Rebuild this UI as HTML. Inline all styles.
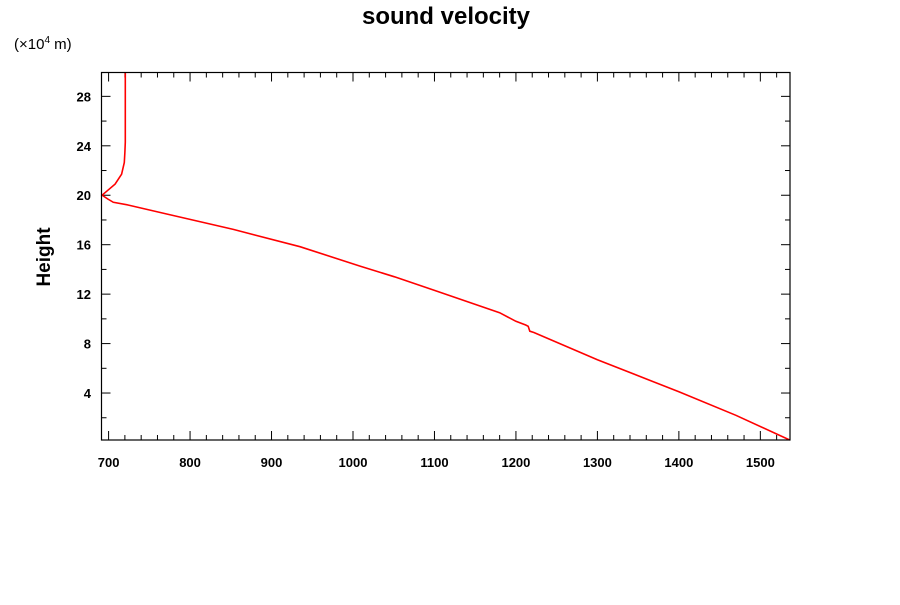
<!DOCTYPE html>
<html><head><meta charset="utf-8"><style>
body{margin:0;background:#fff;}
svg{font-family:"Liberation Sans",sans-serif;}
</style></head><body>
<svg width="900" height="600">
<text x="446" y="24" text-anchor="middle" font-size="24" font-weight="bold">sound velocity</text>
<text x="14" y="49" font-size="15">(×10<tspan font-size="10" dy="-6">4</tspan><tspan dy="6"> m)</tspan></text>
<text transform="translate(50,257) rotate(-90)" text-anchor="middle" font-size="19" font-weight="bold">Height</text>
<g id="axes"></g>
<path id="line" fill="none" stroke="#f00" stroke-width="1.6"/>
<rect x="101.5" y="72.5" width="688.5" height="367.5" fill="none" stroke="#000" stroke-width="1.2"/>
</svg>
<script>
const velocity=[1536,1470,1400,1300,1222,1217,1215,1212,1200,1180,1100,1051,1008.6,934.9,853.1,771.3,723.8,705.8,699,692,699,708,716,719.3,720,720.5,720.5];
const height=[0.2,2.2,4.1,6.7,8.9,9.0,9.4,9.5,9.8,10.5,12.3,13.4,14.27,15.84,17.24,18.48,19.21,19.43,19.7,20.0,20.4,20.9,21.7,22.65,23.5,24.3,29.93];
const xTicks=[700,800,900,1000,1100,1200,1300,1400,1500];
const yTicks=[4,8,12,16,20,24,28];
const X0=691.3,X1=1536.4,Y0=0.2,Y1=29.93,L=101.5,R=790,T=72.5,B=440;
const sx=v=>L+(v-X0)/(X1-X0)*(R-L);
const sy=v=>B-(v-Y0)/(Y1-Y0)*(B-T);
const ns="http://www.w3.org/2000/svg";
const g=document.getElementById('axes');
function line(x1,y1,x2,y2,name){const l=document.createElementNS(ns,'line');l.setAttribute('x1',x1);l.setAttribute('y1',y1);l.setAttribute('x2',x2);l.setAttribute('y2',y2);l.setAttribute('stroke','#000');l.setAttribute('stroke-width','1');


g.appendChild(l);}
function text(x,y,s,anchor,name){const t=document.createElementNS(ns,'text');t.setAttribute('x',x);t.setAttribute('y',y);t.setAttribute('text-anchor',anchor);t.setAttribute('font-size','13');t.setAttribute('font-weight','bold');t.textContent=s;


g.appendChild(t);}
for(let v=700;v<=1536;v+=20){const x=sx(v);const major=v%100===0;const len=major?9:5;
line(x,B,x,B-len,'x-tick');line(x,T,x,T+len,'x-tick-top');}
xTicks.forEach(v=>text(sx(v),467,String(v),'middle','x-tick-label'));
for(let v=2;v<=29;v+=2){const y=sy(v);const major=v%4===0;const len=major?9:5;
line(L,y,L+len,y,'y-tick');line(R,y,R-len,y,'y-tick-right');}
yTicks.forEach(v=>text(91,sy(v)+5,String(v),'end','y-tick-label'));
let d='';velocity.forEach((v,i)=>{d+=(i?'L':'M')+sx(v).toFixed(1)+','+sy(height[i]).toFixed(1);});
document.getElementById('line').setAttribute('d',d);
</script>
</body></html>
